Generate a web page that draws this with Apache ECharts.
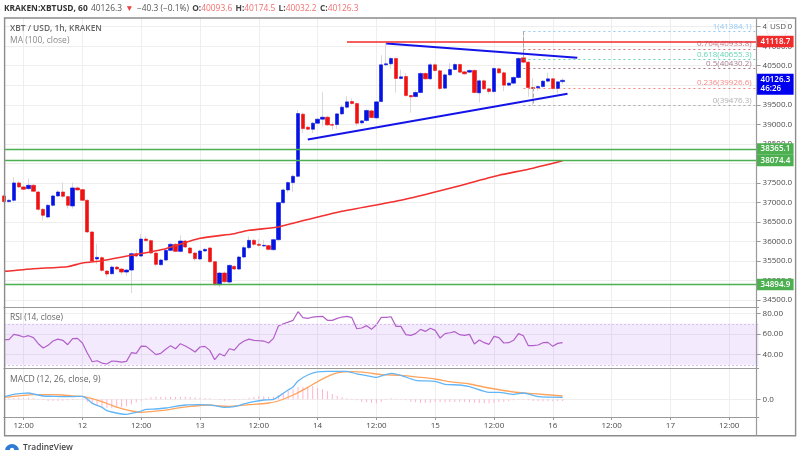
<!DOCTYPE html>
<html>
<head>
<meta charset="utf-8">
<title>XBT / USD, 1h, KRAKEN</title>
<script src="https://cdn.jsdelivr.net/npm/echarts@6/dist/echarts.min.js"></script>
<style>
  html, body { margin: 0; padding: 0; background: #fff; }
  #chart { width: 800px; height: 450px; }
</style>
</head>
<body>
<div id="chart"></div>
<script>
const FONT = '"Open Sans", "Liberation Sans", sans-serif';

// hourly candles, index 0 is the partly hidden one at the left edge
const opens = [37165,37020,37054,37498,37396,37353,37438,37267,36823,36626,36926,37165,37267,37148,36909,37370,37327,37054,36242,35550,
  35584,35242,35173,35344,35293,35216,35267,35686,35626,36062,36020,35703,35404,35524,35772,35926,35746,36011,35832,35703,
  35550,35755,35832,35481,34891,35191,34960,35361,35293,35601,35840,36028,35926,35883,35892,35789,36045,36994,37319,37507,
  37669,39259,38926,38874,39028,39131,39182,38994,38994,39267,39438,39584,39532,39037,39097,39344,39165,39584,40524,40550,
  40686,40173,40225,39738,39712,39815,40302,40165,40524,40370,39926,40267,40404,40532,40344,40336,40379,39806,40114,39909,
  39840,40421,40319,40003,40054,40199,40703,40592,39943,39934,39968,40105,40165,39917,40093.6];
const closes = [37020,37054,37498,37396,37336,37438,37285,36823,36669,36926,37165,37267,37156,36926,37370,37319,37054,36242,35498,35592,
  35259,35165,35344,35293,35216,35267,35686,35626,36062,36020,35703,35413,35524,35772,35926,35746,36011,35857,35703,35558,
  35755,35797,35481,34891,35191,34968,35387,35293,35601,35840,36028,35926,35900,35900,35797,36045,36994,37319,37507,37669,
  39276,38891,38874,39028,39131,39182,38985,38977,39267,39438,39575,39532,39028,39088,39353,39174,39575,40524,40550,40686,
  40173,40216,39738,39703,39815,40302,40165,40524,40379,39917,40267,40404,40532,40336,40293,40379,39815,40114,39909,39840,
  40430,40319,40003,40054,40199,40686,40592,39943,39917,39968,40105,40165,39917,40088,40126.3];
const highs = [37200,37080,37650,37540,37440,37610,37470,37290,36850,36960,37200,37310,37510,37170,37510,37410,37350,37080,36270,35940,
  35620,35270,35380,35370,35320,35300,35720,35800,36200,36130,36050,35730,35560,35810,35970,35960,36160,36040,35860,35730,
  35790,35830,35860,35500,35210,35230,35410,35390,35640,35900,36130,36060,36060,36040,35920,36080,37010,37360,37540,37710,
  39370,39300,38960,39060,39160,39820,39220,39060,39290,39500,39720,39660,39560,39110,39400,39380,39600,40770,41090,40720,
  40710,40400,40310,39760,39870,40340,40330,40570,40560,40400,40300,40560,40570,40560,40370,40410,40410,40150,40150,39940,
  40460,40450,40350,40080,40230,40720,41384,40620,40180,40000,40130,40320,40190,40110,40174.5];
const lows = [36990,37000,37020,37370,37310,37320,37260,36780,36540,36590,36890,37140,37120,36840,36840,37300,37030,36220,35470,35420,
  35210,35090,35150,35270,35150,35120,34680,35600,35600,36000,35680,35370,35380,35500,35750,35720,35720,35830,35670,35500,
  35520,35740,35450,34880,34830,34940,34920,35270,35270,35570,35800,35880,35870,35860,35770,35770,36010,36960,37250,37270,
  37640,38780,38850,38770,39000,38940,38960,38860,38880,39240,39400,39510,38960,39010,39070,39150,39140,39560,40500,40420,
  39810,40150,39700,39300,39690,39790,40140,40140,40350,39880,39900,40240,40380,40310,40270,40310,39790,39560,39880,39780,
  39810,40290,39850,39970,40030,40170,40570,39700,39476,39860,39940,40080,39890,39790,40032.2];

// moving average, read at the visible bends
const maIndex = [0,6,13,16,20,26,33,40,47,50,56,60,69,81,91,101,107,114];
const maValues = [35233,35302,35353,35447,35507,35644,35815,36080,36199,36285,36370,36500,36772,37054,37362,37695,37849,38067];

const rsiValues = [54.5,54.5,59.7,58.7,57.1,58.4,56.5,50.6,46.4,49,53.2,55.1,53.9,49.6,55.5,55.8,51.3,41.5,33,34,
  31.7,30.8,33.7,33.4,32.7,33.4,41.8,41.2,48.3,48,44.1,39.9,41.2,45.1,48.7,45.7,50.6,48.3,45.7,42.5,
  47.4,48,44.1,35,40.8,38.6,45.7,44.4,50,53.2,55.1,53.9,53.5,53.2,51.3,55.8,67.8,70.1,71.7,73.4,
  81.8,76,75.3,76.6,77,77.3,73.4,73.4,75.3,76.6,77.3,76,65.2,65.9,68.2,64.6,69.1,76.3,76.3,76.9,
  67.5,67.5,59.4,58.7,60.4,64.6,62.6,65.6,63.6,56.1,60.4,61.3,62.3,59.4,58.7,59.7,50.3,54.2,51.6,50,
  57.8,56.5,51.3,51.6,53.9,60.4,58.4,48.7,48.7,49.3,51.6,51.9,48,50.9,51.6];

const macdIndex = [0,2,4,5,6,7,8,10,12,14,16,17,18,20,21,22,24,25,26,27,28,29,31,33,35,37,40,43,45,47,49,51,53,55,56,57,58,59,
  60,62,64,66,70,72,74,76,77,79,81,84,88,90,93,95,99,101,104,106,109,114];
const macdValues = [67,125,150,158,133,108,83,75,67,67,75,8,-100,-200,-283,-317,-367,-375,-350,-325,-292,-250,-242,-217,-175,-142,-133,-158,-200,-183,-117,-58,-17,0,67,150,233,308,
  458,608,683,700,700,633,592,550,583,650,600,475,450,375,358,317,175,175,125,158,67,50];
const signalIndex = [0,2,4,6,8,10,12,14,16,18,20,22,24,26,28,30,32,34,36,38,40,42,44,46,48,50,52,54,56,59,62,64,66,68,71,74,77,81,85,88,91,95,99,104,108,114];
const signalValues = [50,75,100,117,117,117,108,83,75,17,-58,-150,-233,-292,-325,-308,-283,-250,-208,-175,-158,-142,-167,-175,-158,-133,-117,-92,-42,108,300,442,567,658,692,667,617,600,550,508,442,383,283,183,142,83];
const histValues = [17,25,33,42,42,42,25,8,-17,-42,-42,-42,-33,-25,-17,-8,-8,-67,-108,-142,
  -183,-208,-225,-217,-200,-167,-125,-75,-33,25,50,67,67,58,67,58,67,67,58,50,
  42,33,25,8,-17,-33,-25,-17,-8,17,42,58,75,75,67,67,108,167,208,250,
  300,308,317,333,283,250,200,133,83,50,25,-8,-25,-58,-75,-83,-100,-58,-17,25,
  17,8,-25,-58,-75,-83,-83,-83,-67,-67,-75,-67,-67,-58,-67,-75,-83,-92,-100,-100,
  -83,-67,-58,-50,-25,-8,17,-25,-42,-50,-50,-50,-50,-50,-42];

const priceTicks = [34500,35000,35500,36000,36500,37000,37500,38000,38500,39000,39500,40000,40500,41000,41500];
const rsiTicks = [40,60,80];
const macdTicks = [0];

// the time axis runs in hours, only these positions carry a label
const timeTickIndex = [4,16,28,40,52,64,76,88,100,112,124,136,148];
const timeTickLabels = ["12:00","12","12:00","13","12:00","14","12:00","15","12:00","16","12:00","17","12:00"];
const hours = Array.from({ length: 155 }, (_, i) => String(i));
const lastHour = hours.length - 1;

const fibLabels = ["1","0.764","0.618","0.5","0.236","0"];
const fibValues = [41384.1,40933.8,40655.3,40430.2,39926.6,39476.3];
const fibColors = ["#64b5f6","#b83a50","#1fc592","#7d3f5a","#ef5350","#8f8f8f"];
const fibStart = 106;
const fibHighWick = [106, 41384.1, 40703];
const fibLowWick = [108, 39943, 39476.3];

const supportValues = [38365.1,38074.4,34894.9];
const resistanceValue = 41118.7;
const resistanceStart = 70;
const lastPrice = 40126.3;
const countdown = "46:26";
const upperTrend = [[78,41069],[117,40705]];
const lowerTrend = [[62,38613],[115,39782]];

const BLUE = "#0412e4";
const RED = "#ee1212";
const GREEN = "#4caf50";
const LEVEL_RED = "#f02b2b";
const AXIS_LINE = "#9a9a9a";
const GRID_LINE = "#eeeeee";
const LEFT = 4;
const WIDTH = 754.6;

const isTimeTick = (index) => timeTickIndex.includes(index);

function paneXAxis(gridIndex, extra) {
  return {
    type: "category",
    gridIndex,
    data: hours,
    boundaryGap: false,
    axisLine: { show: true, onZero: false, lineStyle: { color: AXIS_LINE, width: 1.2 } },
    axisTick: { show: false },
    axisLabel: { show: false },
    splitLine: { show: false },
    ...extra,
  };
}

function paneYAxis(gridIndex, min, max, ticks, digits) {
  return {
    type: "value",
    gridIndex,
    position: "right",
    offset: -2,
    min,
    max,
    axisLine: { show: false },
    axisTick: { show: true, length: 4, customValues: ticks, lineStyle: { color: AXIS_LINE } },
    axisLabel: {
      show: true,
      customValues: ticks,
      margin: 6,
      color: "#4a4a4a",
      fontFamily: FONT,
      fontSize: 8,
      formatter: (value) => value.toFixed(digits),
    },
    splitLine: { show: true, lineStyle: { color: GRID_LINE, width: 1 } },
  };
}

function priceTag(value, color, { text, offsetY = 0, hideLine = false } = {}) {
  return {
    yAxis: value,
    lineStyle: hideLine ? { color: "transparent", width: 1 } : { width: 1.4, color, type: "solid" },
    label: {
      show: true,
      position: "end",
      distance: 0,
      offset: [-2, offsetY],
      formatter: text ?? value.toFixed(1),
      backgroundColor: color,
      color: "#fff",
      fontFamily: FONT,
      fontWeight: 600,
      fontSize: 8,
      width: 29,
      padding: [1, 4],
      lineHeight: 9.5,
    },
  };
}

function segment(from, to, color, width, dashed) {
  return [
    { coord: from, lineStyle: { color, width, type: dashed ? "dashed" : "solid" }, label: { show: false } },
    { coord: to },
  ];
}

function fibLine(index) {
  return [
    {
      coord: [fibStart, fibValues[index]],
      lineStyle: { color: fibColors[index], width: 1, type: [2, 3], opacity: 0.7 },
      label: {
        show: true,
        position: "insideEndTop",
        distance: 1,
        offset: [-6, 0],
        formatter: `${fibLabels[index]}(${fibValues[index].toFixed(1)})`,
        color: fibColors[index],
        fontFamily: FONT,
        fontSize: 8,
      },
    },
    { coord: [lastHour, fibValues[index]] },
  ];
}

const chart = echarts.init(document.getElementById("chart"), undefined, { renderer: "canvas" });

chart.setOption({
  animation: false,
  backgroundColor: "#fff",
  grid: [
    { left: LEFT, width: WIDTH, top: 18, height: 399 },
    { left: LEFT, width: WIDTH, top: 18, height: 289.3 },
    { left: LEFT, width: WIDTH, top: 307.3, height: 61 },
    { left: LEFT, width: WIDTH, top: 368.3, height: 48.7 },
  ],
  xAxis: [
    paneXAxis(0, {
      axisTick: { show: true, length: 3, interval: isTimeTick, lineStyle: { color: AXIS_LINE } },
      axisLabel: {
        show: true,
        interval: isTimeTick,
        margin: 5,
        color: "#4a4a4a",
        fontFamily: FONT,
        fontSize: 8,
        formatter: (value, index) => timeTickLabels[timeTickIndex.indexOf(index)] ?? "",
      },
      splitLine: { show: true, interval: isTimeTick, lineStyle: { color: GRID_LINE, width: 1 } },
    }),
    paneXAxis(1),
    paneXAxis(2),
    paneXAxis(3),
  ],
  yAxis: [
    { type: "value", gridIndex: 0, show: false, min: 0, max: 1 },
    paneYAxis(1, 34313, 41723, priceTicks, 1),
    paneYAxis(2, 26.6, 86.1, rsiTicks, 2),
    paneYAxis(3, -442, 775, macdTicks, 1),
  ],
  series: [
    {
      name: "MA",
      type: "line",
      xAxisIndex: 1,
      yAxisIndex: 1,
      data: maIndex.map((hour, i) => [hour, maValues[i]]),
      showSymbol: false,
      smooth: 0.2,
      lineStyle: { color: "#f23030", width: 1.6 },
      z: 4,
    },
    {
      name: "wicks",
      type: "candlestick",
      xAxisIndex: 1,
      yAxisIndex: 1,
      barWidth: 1,
      data: opens.map((open, i) => [open, closes[i], lows[i], highs[i]]),
      itemStyle: { color: "#d9d9d9", color0: "#d9d9d9", borderColor: "#d9d9d9", borderColor0: "#d9d9d9", borderWidth: 1 },
      z: 2,
    },
    {
      name: "bodies",
      type: "candlestick",
      xAxisIndex: 1,
      yAxisIndex: 1,
      barWidth: 3.8,
      data: opens.map((open, i) => [open, closes[i], Math.min(open, closes[i]), Math.max(open, closes[i])]),
      itemStyle: { color: BLUE, color0: RED, borderColor: BLUE, borderColor0: RED, borderWidth: 0.6 },
      z: 3,
      markLine: {
        silent: true,
        symbol: "none",
        animation: false,
        precision: 1,
        z: 5,
        data: [
          fibLine(0), fibLine(1), fibLine(2), fibLine(3), fibLine(4), fibLine(5),
          segment([fibHighWick[0], fibHighWick[1]], [fibHighWick[0], fibHighWick[2]], "#a8a8a8", 1, true),
          segment([fibLowWick[0], fibLowWick[1]], [fibLowWick[0], fibLowWick[2]], "#a8a8a8", 1, true),
          segment(upperTrend[0], upperTrend[1], "#1414e8", 2),
          segment(lowerTrend[0], lowerTrend[1], "#1414e8", 2),
          segment([resistanceStart, resistanceValue], [lastHour, resistanceValue], LEVEL_RED, 1.6),
          priceTag(supportValues[0], GREEN),
          priceTag(supportValues[1], GREEN),
          priceTag(supportValues[2], GREEN),
          priceTag(resistanceValue, LEVEL_RED, { hideLine: true }),
          priceTag(lastPrice, "#0000f0", { text: `${lastPrice.toFixed(1)}\n${countdown}`, offsetY: 4, hideLine: true }),
        ],
      },
    },
    {
      name: "RSI",
      type: "line",
      xAxisIndex: 2,
      yAxisIndex: 2,
      data: rsiValues.map((value, i) => [i, value]),
      showSymbol: false,
      lineStyle: { color: "#b25fc9", width: 1.2 },
      z: 4,
      markArea: {
        silent: true,
        itemStyle: { color: "rgba(166,92,240,0.13)" },
        data: [[{ xAxis: 0, yAxis: 70 }, { xAxis: lastHour, yAxis: 30 }]],
      },
      markLine: {
        silent: true,
        symbol: "none",
        animation: false,
        label: { show: false },
        lineStyle: { color: "#d9c3ea", type: [2, 2], width: 1 },
        data: [{ yAxis: 70 }, { yAxis: 30 }],
      },
    },
    {
      name: "Histogram",
      type: "bar",
      xAxisIndex: 3,
      yAxisIndex: 3,
      barWidth: 1,
      data: histValues.map((value, i) => [i, value]),
      itemStyle: { color: "#ffb3cd" },
      z: 2,
    },
    {
      name: "Signal",
      type: "line",
      xAxisIndex: 3,
      yAxisIndex: 3,
      data: signalIndex.map((hour, i) => [hour, signalValues[i]]),
      showSymbol: false,
      smooth: 0.2,
      lineStyle: { color: "#ffa45e", width: 1.3 },
      z: 3,
    },
    {
      name: "MACD",
      type: "line",
      xAxisIndex: 3,
      yAxisIndex: 3,
      data: macdIndex.map((hour, i) => [hour, macdValues[i]]),
      showSymbol: false,
      smooth: 0.2,
      lineStyle: { color: "#62b6f7", width: 1.3 },
      z: 4,
    },
  ],
  graphic: [
    // frame and the vertical line of the price scale
    { type: "rect", shape: { x: 4.6, y: 18, width: 791, height: 417.7 }, style: { fill: "none", stroke: "#8c8c8c", lineWidth: 1.4 }, z: 20 },
    { type: "line", shape: { x1: 756.5, y1: 18, x2: 756.5, y2: 435.7 }, style: { stroke: AXIS_LINE, lineWidth: 1.2 }, z: 20 },
    {
      type: "text",
      left: 4,
      top: 3,
      z: 20,
      style: {
        rich: {
          name: { font: `700 8.4px ${FONT}`, fill: "#333" },
          last: { font: `400 8.4px ${FONT}`, fill: "#555" },
          down: { font: `400 8.4px ${FONT}`, fill: "#ef4040" },
          key: { font: `700 8.4px ${FONT}`, fill: "#444" },
          value: { font: `400 8.4px ${FONT}`, fill: "#f27070" },
        },
        text: "{name|KRAKEN:XBTUSD, 60} {last|40126.3} {down|▼} {last|−40.3 (−0.1%)} {key|O:}{value|40093.6} {key|H:}{value|40174.5} {key|L:}{value|40032.2} {key|C:}{value|40126.3}",
      },
    },
    { type: "text", left: 10, top: 25, z: 20, style: { text: "XBT / USD, 1h, KRAKEN", font: `600 8.4px ${FONT}`, fill: "#666" } },
    { type: "text", left: 10, top: 36, z: 20, style: { text: "MA (100, close)", font: `400 8.5px ${FONT}`, fill: "#888" } },
    { type: "text", left: 10, top: 314, z: 20, style: { text: "RSI (14, close)", font: `400 8.4px ${FONT}`, fill: "#666" } },
    { type: "text", left: 10, top: 375, z: 20, style: { text: "MACD (12, 26, close, 9)", font: `400 8.6px ${FONT}`, fill: "#666" } },
    {
      type: "rect",
      shape: { x: 767, y: 21, width: 20, height: 14, r: 3 },
      style: { fill: "#fff", stroke: "#eeeeee" },
      z: 21,
    },
    { type: "text", left: 770, top: 23, z: 22, style: { text: "USD", font: `400 8px ${FONT}`, fill: "#555" } },
    // TradingView mark, cut off by the bottom of the picture
    { type: "circle", shape: { cx: 12, cy: 451, r: 7 }, style: { fill: "#2e7bd6" }, z: 20 },
    { type: "circle", shape: { cx: 12, cy: 450, r: 2.2 }, style: { fill: "#fff" }, z: 21 },
    { type: "text", left: 23, top: 444, z: 20, style: { text: "TradingView", font: `600 8.4px ${FONT}`, fill: "#444" } },
  ],
});

window.addEventListener("resize", () => chart.resize());
</script>
</body>
</html>
